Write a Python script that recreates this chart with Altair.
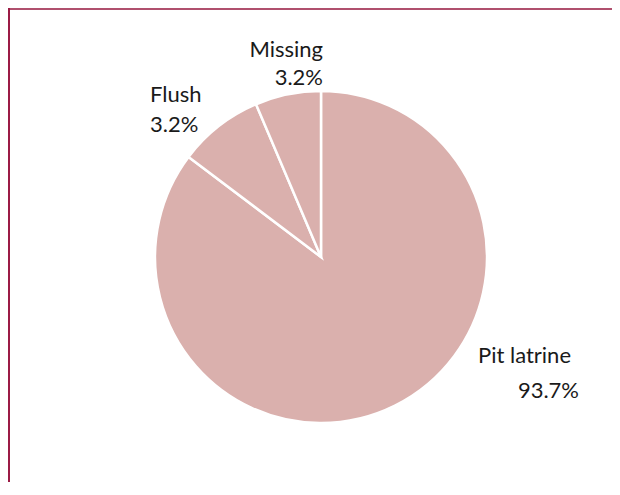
import altair as alt
import pandas as pd

# data (slice sizes from the drawn angles, labels as printed)
categories = ["Pit latrine", "Flush", "Missing"]
slice_values = [85.3, 8.3, 6.4]
label_texts = ["93.7%", "3.2%", "3.2%"]

df = pd.DataFrame({
    "category": categories,
    "value": slice_values,
    "pct": label_texts,
    "order": list(range(len(categories))),
})

W, H = 604, 474
CX, CY, R = 313, 249, 166
FONT = "Lato"
FS = 22
PIE_COLOR = "#dab0ad"

pie = alt.Chart(df).mark_arc(
    outerRadius=R, stroke="white", strokeWidth=2.5, color=PIE_COLOR
).encode(
    theta=alt.Theta("value:Q", stack=True),
    order=alt.Order("order:Q"),
    x=alt.value(CX),
    y=alt.value(CY),
)

# label layout: (category, field, x, y, align)
label_layout = [
    ("Missing", "category", 315, 49, "right"),
    ("Missing", "pct", 315, 77, "right"),
    ("Flush", "category", 142, 94, "left"),
    ("Flush", "pct", 142, 124, "left"),
    ("Pit latrine", "category", 470, 355, "left"),
    ("Pit latrine", "pct", 571, 390, "right"),
]

labels = []
for cat, field, lx, ly, al in label_layout:
    labels.append(
        alt.Chart(df).transform_filter(alt.datum.category == cat).mark_text(
            font=FONT, fontSize=FS, color="#1a1a1a", align=al,
            baseline="alphabetic"
        ).encode(
            x=alt.value(lx), y=alt.value(ly), text=alt.Text(f"{field}:N")
        )
    )

top_rule = alt.Chart(df.head(1)).mark_rule(color="#b0506e", strokeWidth=2).encode(
    x=alt.value(0), x2=alt.value(W), y=alt.value(1)
)
left_rule = alt.Chart(df.head(1)).mark_rule(color="#9b1b45", strokeWidth=2).encode(
    x=alt.value(1), y=alt.value(0), y2=alt.value(H)
)

chart = alt.layer(pie, *labels, top_rule, left_rule).properties(
    width=W, height=H,
    autosize=alt.AutoSizeParams(type="none"),
    padding=0,
).configure_view(stroke=None)

chart.save("out.html", embed_options={"renderer": "svg", "actions": False})
